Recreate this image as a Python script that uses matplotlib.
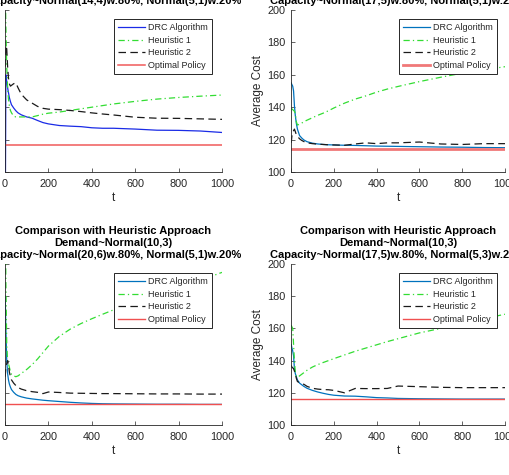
import matplotlib
matplotlib.use('Agg')
import matplotlib.pyplot as plt
from matplotlib.lines import Line2D

plt.rcParams['font.family'] = ['Liberation Sans', 'DejaVu Sans']

t = [1, 4, 8, 12, 16, 20, 25, 30, 40, 50, 60, 75, 100, 125, 150, 175, 200,
     250, 300, 350, 400, 450, 500, 600, 700, 800, 900, 1000]

# top left: Capacity~Normal(14,4)w.80%, Normal(5,1)w.20%
tl_drc = [60, 160, 156, 152, 149, 146, 143.5, 141.5, 139.5, 137.8, 136.5, 135.3, 134, 133.2,
          131.8, 130.5, 129.7, 128.7, 128.3, 128, 127.3, 127, 127, 126.5, 125.8, 125.7, 125.3, 124.4]
tl_h1 = [215, 190, 165, 152, 145, 141, 138, 136.5, 134.5, 134, 134, 134, 134, 134,
         134.8, 135.7, 136.3, 137, 138, 139, 140, 141, 142, 143.6, 145, 146, 146.8, 147.5]
tl_h2 = [165, 178, 176, 165, 158, 154.5, 153, 153.5, 154.5, 155, 152, 148, 144.5, 142.5,
         140.5, 139.3, 138.8, 138.5, 138, 137.3, 136.5, 135.8, 135.2, 133.8, 133.2, 133.1, 132.8, 132.5]
tl_opt = 116.7

# top right: Capacity~Normal(17,5)w.80%, Normal(5,1)w.20%
tr_drc = [155, 154, 153, 150, 141, 135, 130, 126.5, 122.5, 121, 119.8, 118.7, 117.8, 117.3,
          117, 116.8, 116.7, 116.5, 116.4, 116.2, 116, 115.9, 115.8, 115.6, 115.4, 115.3, 115.1, 115]
tr_h1 = [139, 139, 138.5, 138, 137.5, 136, 131, 129, 129.5, 130.2, 131, 132, 133.5, 135,
         136.3, 137.8, 139.5, 142.5, 145, 147, 149.3, 151.2, 152.8, 155.8, 158.5, 161, 163, 165]
tr_h2 = [118, 122, 124, 125.5, 126.5, 125, 123, 122, 120.5, 119.5, 118.8, 118, 117.5, 117.2,
         117, 116.8, 116.7, 116.5, 117.3, 118, 117.5, 118, 118, 118.5, 117.3, 117, 117.5, 117.5]
tr_opt = 114.4

# bottom left: Capacity~Normal(20,6)w.80%, Normal(5,1)w.20%
bl_drc = [180, 160, 140, 132, 128, 125.5, 123.5, 122, 120.3, 119, 118.2, 117.5, 116.7, 116.2,
          115.8, 115.4, 115.1, 114.6, 114.1, 113.7, 113.4, 113.2, 113.1, 113, 112.9, 112.9, 112.8, 112.8]
bl_h1 = [240, 190, 150, 140, 138, 136, 133, 131.5, 130.5, 130, 130.5, 132, 134.5, 137.5,
         141, 145, 149, 155, 159.5, 163, 166, 168.8, 171.5, 176, 180.8, 185.2, 189.8, 194.8]
bl_h2 = [130, 136, 138, 140, 137.5, 133, 130, 128, 126, 124.5, 123.3, 122.3, 121.3, 120.7,
         120.3, 119.5, 120.5, 120.2, 119.8, 119.7, 119.6, 119.5, 119.5, 119.4, 119.3, 119.3, 119.2, 119.2]
bl_opt = 112.8

# bottom right: Capacity~Normal(17,5)w.80%, Normal(5,3)w.20%
br_drc = [150, 148, 146, 143, 135, 132, 130, 128, 126, 125, 124, 122.8, 121.5, 120.5,
          119.7, 119, 118.5, 118, 117.9, 117.5, 117, 116.8, 116.5, 116.3, 116.2, 116.1, 116.1, 116.1]
br_h1 = [162, 161, 160, 150, 140, 133, 130, 129.6, 130.5, 131.5, 132.5, 134, 136, 137.5,
         138.8, 140, 141.2, 143.5, 145.8, 147.8, 149.8, 151.8, 153.6, 157.2, 160, 163, 166, 168.8]
br_h2 = [137, 136, 135.5, 135, 133.5, 132, 129, 127, 126.3, 125.6, 125.3, 124, 122.8, 122.3,
         122, 121.9, 121.5, 120, 122.7, 122.6, 122.6, 122.7, 124.2, 123.8, 123.4, 123.2, 123.2, 123.2]
br_opt = 116.1

labels = ['DRC Algorithm', 'Heuristic 1', 'Heuristic 2', 'Optimal Policy']
title_top = 'Comparison with Heuristic Approach\nDemand~Normal(10,3)\n'
caps = ['Capacity~Normal(14,4)w.80%, Normal(5,1)w.20%',
        'Capacity~Normal(17,5)w.80%, Normal(5,1)w.20%',
        'Capacity~Normal(20,6)w.80%, Normal(5,1)w.20%',
        'Capacity~Normal(17,5)w.80%, Normal(5,3)w.20%']

W, H = 510, 475
fig = plt.figure(figsize=(W / 100, H / 100), dpi=100)

def px_axes(x0, x1, ytop, ybot):
    return fig.add_axes([x0 / W, 1 - ybot / H, (x1 - x0) / W, (ybot - ytop) / H])

GREEN = '#33dd33'
DARK = '#262626'
DASHDOT = (0, (5, 2.5, 1, 2.5))
DASH = (0, (6, 3.5))

panels = [
    (px_axes(5, 222, 10, 172), tl_drc, tl_h1, tl_h2, tl_opt, '#1a2be6', '#f05a5a', 1.1, (0, 1000), (212, 19)),
    (px_axes(291, 505, 10, 172), tr_drc, tr_h1, tr_h2, tr_opt, '#0072BD', '#f07878', 2.0, (10.8, 1000), (497, 19)),
    (px_axes(5, 222, 264, 425), bl_drc, bl_h1, bl_h2, bl_opt, '#0072BD', '#f05050', 1.0, (0, 1000), (212, 273)),
    (px_axes(291, 505, 264, 425), br_drc, br_h1, br_h2, br_opt, '#0072BD', '#f05050', 1.0, (10.8, 1000), (497, 273)),
]

for i, (ax, drc, h1, h2, opt, blue, red, opt_lw, xl, leg_xy) in enumerate(panels):
    ax.plot(t, drc, color=blue, lw=0.9)
    ax.plot(t, h1, color=GREEN, lw=0.9, linestyle=DASHDOT)
    ax.plot(t, h2, color='#1a1a1a', lw=0.9, linestyle=DASH)
    ax.axhline(opt, color=red, lw=opt_lw)

    ax.set_xlim(*xl)
    ax.set_ylim(100, 200)
    ax.set_xticks([0, 200, 400, 600, 800, 1000])
    ax.set_yticks([100, 120, 140, 160, 180, 200])
    ax.spines['top'].set_visible(False)
    ax.spines['right'].set_visible(False)
    for s in ('left', 'bottom'):
        ax.spines[s].set_color(DARK)
        ax.spines[s].set_linewidth(0.6)
    ax.tick_params(direction='in', length=3, width=0.5, labelsize=7.8, colors=DARK)
    ax.tick_params(axis='y', pad=4)
    ax.tick_params(axis='x', pad=5)
    ax.set_xlabel('t', fontsize=8.5, color=DARK, labelpad=2)
    ax.set_ylabel('Average Cost', fontsize=8.5, color=DARK, labelpad=2)
    ax.set_title(title_top + caps[i], fontsize=8, fontweight='bold',
                 linespacing=1.25, pad=4, color='black')

    handles = [Line2D([], [], color=blue, lw=0.9),
               Line2D([], [], color=GREEN, lw=0.9, linestyle=DASHDOT),
               Line2D([], [], color='#1a1a1a', lw=0.9, linestyle=DASH),
               Line2D([], [], color=red, lw=opt_lw)]
    leg = ax.legend(handles, labels, loc='upper right', fontsize=6.5,
                    bbox_to_anchor=(leg_xy[0] / W, 1 - leg_xy[1] / H),
                    bbox_transform=fig.transFigure, borderaxespad=0,
                    fancybox=False, handlelength=3.0, handletextpad=0.3,
                    labelspacing=0.4, borderpad=0.45, framealpha=1)
    leg.get_frame().set_edgecolor(DARK)
    leg.get_frame().set_linewidth(0.7)
    for txt in leg.get_texts():
        txt.set_color(DARK)

fig.savefig('out.png', dpi=100)
